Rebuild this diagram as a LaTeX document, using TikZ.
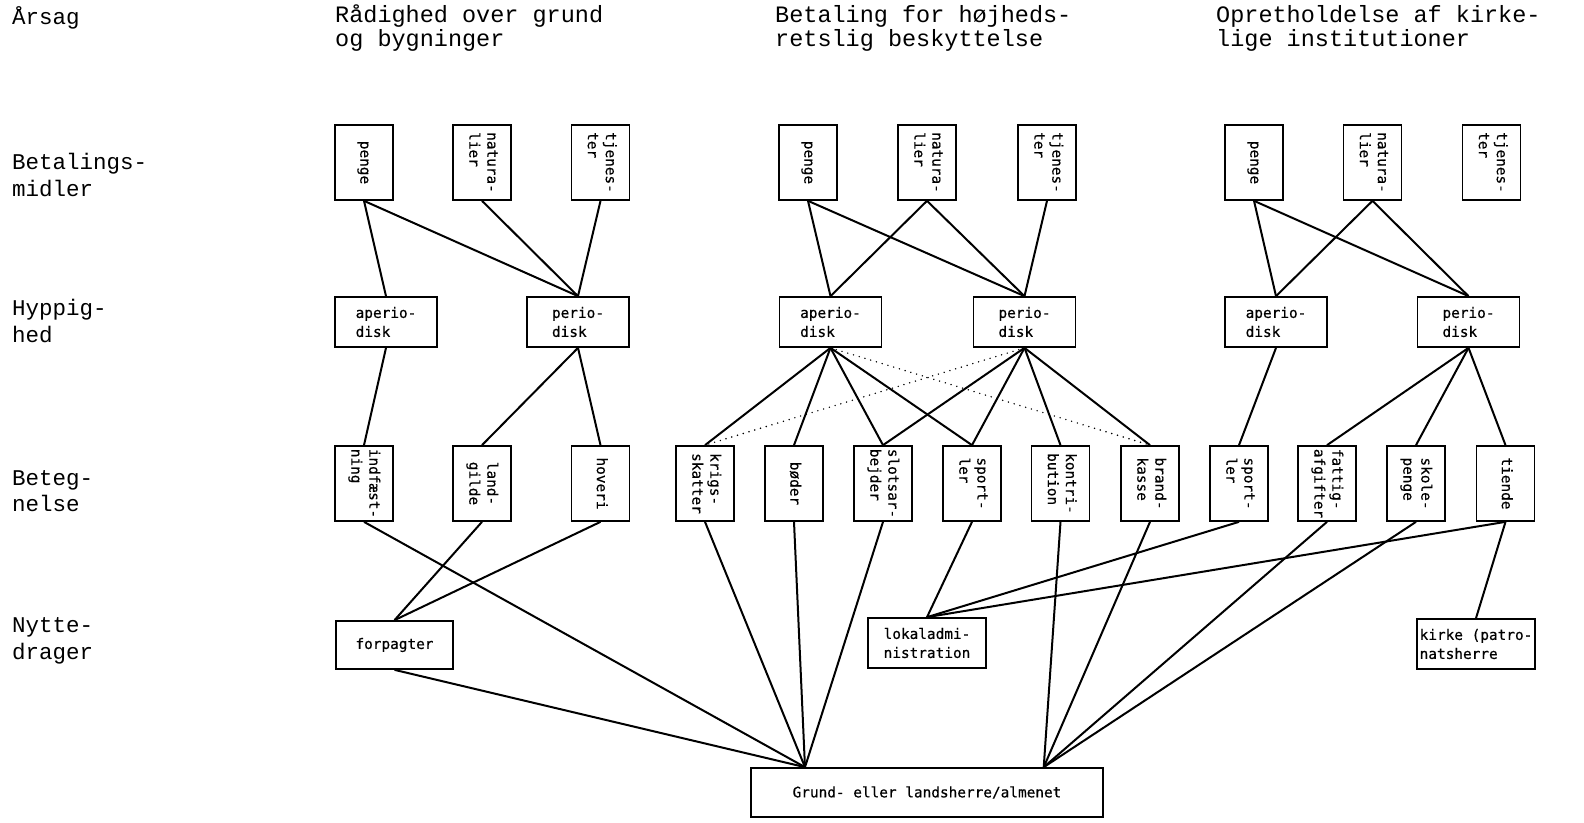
\documentclass[tikz,border=0pt]{standalone}
\usepackage{fontspec}
\setmainfont{Liberation Mono}
\newfontfamily\boxfont[FakeBold=0.5]{DejaVu Sans Mono}
\usetikzlibrary{calc}

\newcommand{\vtxt}[1]{\rotatebox{-90}{\begin{tabular}{@{}l@{}}#1\end{tabular}}}

\begin{document}
\begin{tikzpicture}[x=1pt,y=-1pt,
  lbl/.style={anchor=west,align=left,inner sep=0pt,font=\fontsize{22.5}{26.5}\selectfont},
  hdr/.style={anchor=west,align=left,inner sep=0pt,font=\fontsize{23.5}{24}\selectfont},
  vbox/.style={draw,line width=1.7pt,inner sep=0pt,minimum width=58,minimum height=75,
    font=\boxfont\fontsize{14.4}{18}\selectfont},
  hbox/.style={draw,line width=1.7pt,inner sep=0pt,align=left,minimum width=102,minimum height=50,
    font=\boxfont\fontsize{14.4}{19}\selectfont},
  ln/.style={black,line width=2pt},
  dl/.style={black,line width=1.6pt,line cap=round,dash pattern=on 0pt off 6pt}]
  \useasboundingbox (0,0) rectangle (1584,822);

  % row labels and headers
  \node[lbl] (arsag) at (12,18) {Årsag};
  \node[lbl] (betm) at (12,175) {Betalings-\\midler};
  \node[lbl] (hyp) at (12,321) {Hyppig-\\hed};
  \node[lbl] (beteg) at (12,491) {Beteg-\\nelse};
  \node[lbl] (nytte) at (12,641) {Nytte-\\drager};
  \node[hdr] (hdA) at (335,28) {Rådighed over grund\\og bygninger};
  \node[hdr] (hdB) at (775,28) {Betaling for højheds-\\retslig beskyttelse};
  \node[hdr] (hdC) at (1216,28) {Opretholdelse af kirke-\\lige institutioner};

  % betalingsmidler
  \node[vbox] (pengeA) at (364,162.5) {\vtxt{penge}};
  \node[vbox] (natA) at (482,162.5) {\vtxt{natura-\\lier}};
  \node[vbox] (tjenA) at (600.5,162.5) {\vtxt{tjenes-\\ter}};
  \node[vbox] (pengeB) at (808,162.5) {\vtxt{penge}};
  \node[vbox] (natB) at (927,162.5) {\vtxt{natura-\\lier}};
  \node[vbox] (tjenB) at (1047,162.5) {\vtxt{tjenes-\\ter}};
  \node[vbox] (pengeC) at (1254,162.5) {\vtxt{penge}};
  \node[vbox] (natC) at (1372.5,162.5) {\vtxt{natura-\\lier}};
  \node[vbox] (tjenC) at (1491.5,162.5) {\vtxt{tjenes-\\ter}};

  % hyppighed
  \node[hbox] (aperA) at (386,322) {aperio-\\disk};
  \node[hbox] (perA) at (578,322) {perio-\\disk};
  \node[hbox] (aperB) at (830.5,322) {aperio-\\disk};
  \node[hbox] (perB) at (1024.5,322) {perio-\\disk};
  \node[hbox] (aperC) at (1276,322) {aperio-\\disk};
  \node[hbox] (perC) at (1468.5,322) {perio-\\disk};

  % betegnelse
  \node[vbox] (indf) at (364,483.5) {\vtxt{indfæst-\\ning}};
  \node[vbox] (landg) at (482,483.5) {\vtxt{land-\\gilde}};
  \node[vbox] (hov) at (600.5,483.5) {\vtxt{hoveri}};
  \node[vbox] (krigs) at (705,483.5) {\vtxt{krigs-\\skatter}};
  \node[vbox] (boder) at (794,483.5) {\vtxt{bøder}};
  \node[vbox] (slots) at (883,483.5) {\vtxt{slotsar-\\bejder}};
  \node[vbox] (sportB) at (972,483.5) {\vtxt{sport-\\ler}};
  \node[vbox] (kontr) at (1060.5,483.5) {\vtxt{kontri-\\bution}};
  \node[vbox] (brand) at (1150,483.5) {\vtxt{brand-\\kasse}};
  \node[vbox] (sportC) at (1239,483.5) {\vtxt{sport-\\ler}};
  \node[vbox] (fattig) at (1327,483.5) {\vtxt{fattig-\\afgifter}};
  \node[vbox] (skole) at (1416,483.5) {\vtxt{skole-\\penge}};
  \node[vbox] (tiende) at (1505.5,483.5) {\vtxt{tiende}};

  % nyttedrager
  \node[hbox,minimum width=117,minimum height=48] (forp) at (394.5,645) {forpagter};
  \node[hbox,minimum width=118] (lokal) at (927,643) {lokaladmi-\\nistration};
  \node[hbox,minimum width=118] (kirke) at (1476,644) {kirke (patro-\\natsherre};
  \node[hbox,minimum width=352,minimum height=49] (grund) at (927,792.5) {Grund- eller landsherre/almenet};
  \coordinate (gL) at ($(grund.north west)!0.155!(grund.north east)$);
  \coordinate (gR) at ($(grund.north west)!0.83!(grund.north east)$);

  % Raadighed
  \draw [ln] (pengeA.south) to (aperA.north);
  \draw [ln] (pengeA.south) to (perA.north);
  \draw [ln] (natA.south) to (perA.north);
  \draw [ln] (tjenA.south) to (perA.north);
  \draw [ln] (aperA.south) to (indf.north);
  \draw [ln] (perA.south) to (landg.north);
  \draw [ln] (perA.south) to (hov.north);
  \draw [ln] (landg.south) to (forp.north);
  \draw [ln] (hov.south) to (forp.north);
  \draw [ln] (indf.south) to (gL);
  \draw [ln] (forp.south) to (gL);

  % Betaling
  \draw [ln] (pengeB.south) to (aperB.north);
  \draw [ln] (pengeB.south) to (perB.north);
  \draw [ln] (natB.south) to (aperB.north);
  \draw [ln] (natB.south) to (perB.north);
  \draw [ln] (tjenB.south) to (perB.north);
  \foreach \n in {krigs,boder,slots,sportB}
    \draw [ln] (aperB.south) to (\n.north);
  \foreach \n in {slots,sportB,kontr,brand}
    \draw [ln] (perB.south) to (\n.north);
  \draw [dl] (aperB.south) to (brand.north);
  \draw [dl] (perB.south) to (krigs.north);
  \foreach \n in {krigs,boder,slots}
    \draw [ln] (\n.south) to (gL);
  \draw [ln] (sportB.south) to (lokal.north);
  \draw [ln] (kontr.south) to (gR);
  \draw [ln] (brand.south) to (gR);

  % Opretholdelse
  \draw [ln] (pengeC.south) to (aperC.north);
  \draw [ln] (pengeC.south) to (perC.north);
  \draw [ln] (natC.south) to (aperC.north);
  \draw [ln] (natC.south) to (perC.north);
  \draw [ln] (aperC.south) to (sportC.north);
  \foreach \n in {fattig,skole,tiende}
    \draw [ln] (perC.south) to (\n.north);
  \draw [ln] (sportC.south) to (lokal.north);
  \draw [ln] (tiende.south) to (lokal.north);
  \draw [ln] (tiende.south) to (kirke.north);
  \draw [ln] (fattig.south) to (gR);
  \draw [ln] (skole.south) to (gR);
\end{tikzpicture}
\end{document}
